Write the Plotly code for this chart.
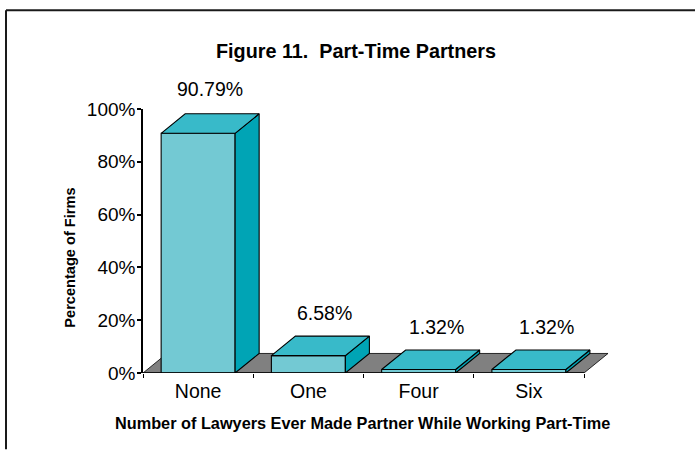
import plotly.graph_objects as go

categories = ["None", "One", "Four", "Six"]
values = [90.79, 6.58, 1.32, 1.32]
labels = ["90.79%", "6.58%", "1.32%", "1.32%"]
y_ticks = [0, 20, 40, 60, 80, 100]
y_tick_text = ["0%", "20%", "40%", "60%", "80%", "100%"]

W, H = 695, 450
L, R, T, B = 143, 625, 109, 373.5   # plot area, wider than the axis so the depth of the floor fits
CAT_PX = 110.25
FONT = "Liberation Sans, Arial, sans-serif"
BAR_W = 0.671
DX = 0.218     # depth in category units
DY = 7.4       # depth in percent units
FRONT, TOP, SIDE, FLOOR = "#73C9D3", "#38BAC9", "#00A4B5", "#808080"
LABEL_XSHIFT = [0, 4, 6, 6]
LABEL_YSHIFT = [24.5, 23.5, 23, 23]


def px(x):
    return (x - L) / (R - L)


def py(y):
    return (B - y) / (B - T)


def poly(xs, ys, color, lw=1.1):
    return go.Scatter(
        x=xs + xs[:1], y=ys + ys[:1], mode="lines", fill="toself", fillcolor=color,
        line=dict(color="black", width=lw), hoverinfo="skip", showlegend=False, cliponaxis=False,
    )


n = len(categories)
fig = go.Figure()
fig.add_trace(poly([0, DX, n + DX, n], [0, DY, DY, 0], FLOOR, 0.8))

for i, v in enumerate(values):
    x0 = i + 0.5 - BAR_W / 2
    x1 = i + 0.5 + BAR_W / 2
    fig.add_trace(poly([x0, x1, x1, x0], [0, 0, v, v], FRONT))
    fig.add_trace(poly([x1, x1 + DX, x1 + DX, x1], [0, DY, v + DY, v], SIDE))
    fig.add_trace(poly([x0, x1, x1 + DX, x0 + DX], [v, v, v + DY, v + DY], TOP))

# category axis baseline stops at the last category
fig.add_trace(go.Scatter(x=[0, n], y=[0, 0], mode="lines", line=dict(color="black", width=1.5),
                         hoverinfo="skip", showlegend=False, cliponaxis=False))

annotations = []
for i, v in enumerate(values):
    annotations.append(dict(
        x=i + 0.5 + DX / 2, y=v + DY, xref="x", yref="y", text=labels[i], showarrow=False,
        xshift=LABEL_XSHIFT[i], yshift=LABEL_YSHIFT[i], xanchor="center", yanchor="middle",
        font=dict(family=FONT, size=19.5, color="black"),
    ))
annotations.append(dict(
    x=px(356), y=py(51), xref="paper", yref="paper", text="<b>Figure 11.  Part-Time Partners</b>",
    showarrow=False, xanchor="center", yanchor="middle", font=dict(family=FONT, size=19.8, color="black"),
))
annotations.append(dict(
    x=px(362), y=py(424), xref="paper", yref="paper",
    text="<b>Number of Lawyers Ever Made Partner While Working Part-Time</b>",
    showarrow=False, xanchor="center", yanchor="middle", font=dict(family=FONT, size=16.3, color="black"),
))
annotations.append(dict(
    x=px(70), y=py(258), xref="paper", yref="paper", text="<b>Percentage of Firms</b>", textangle=-90,
    showarrow=False, xanchor="center", yanchor="middle", font=dict(family=FONT, size=14.6, color="black"),
))

shapes = [
    dict(type="line", xref="paper", yref="paper", x0=px(6), x1=px(695), y0=py(10), y1=py(10),
         line=dict(color="#1a1a1a", width=2)),
    dict(type="line", xref="paper", yref="paper", x0=px(6), x1=px(6), y0=py(10), y1=py(450),
         line=dict(color="#1a1a1a", width=2)),
]

fig.update_layout(
    width=W, height=H, autosize=False, showlegend=False,
    margin=dict(l=L, r=W - R, t=T, b=H - B, pad=0),
    paper_bgcolor="white", plot_bgcolor="rgba(0,0,0,0)",
    annotations=annotations, shapes=shapes,
    xaxis=dict(
        range=[0, (R - L) / CAT_PX], tickmode="array", tickvals=[i + 0.5 for i in range(n)],
        ticktext=categories, ticks="", showgrid=False, zeroline=False, showline=False,
        ticklabelstandoff=4,
        tickfont=dict(family=FONT, size=19.5, color="black"),
        minor=dict(tickmode="array", tickvals=list(range(n + 1)), ticks="outside", ticklen=4,
                   tickcolor="black", tickwidth=1, showgrid=False),
    ),
    yaxis=dict(
        range=[0, 100], tickmode="array", tickvals=y_ticks, ticktext=y_tick_text, ticks="outside",
        ticklen=4, tickcolor="black", tickwidth=1.5, showgrid=False, zeroline=False, showline=True,
        ticklabelstandoff=-2,
        linecolor="black", linewidth=1.5, tickfont=dict(family=FONT, size=19, color="black"),
    ),
)

fig.write_html(
    "out.html",
    config={"displayModeBar": False},
    post_script="document.body.style.margin='0';document.body.style.overflow='hidden';",
)
